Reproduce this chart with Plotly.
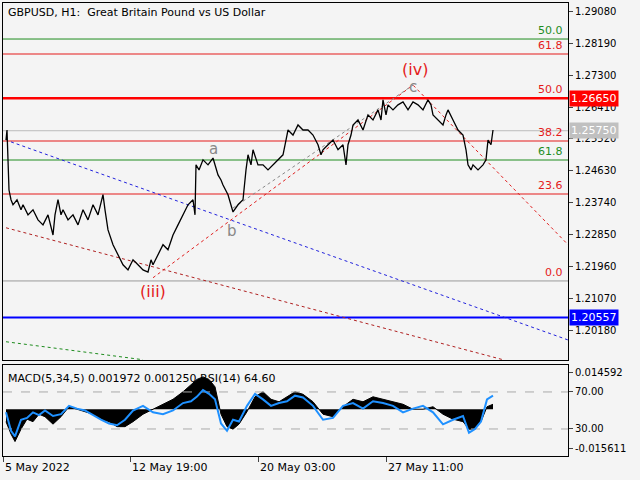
import plotly.graph_objects as go

# price path (x = bar position index, price)
px_x = [3,4,6,8,10,14,18,20,25,30,35,40,45,50,52,55,58,60,65,70,75,80,85,90,95,100,102,105,110,115,120,125,130,135,140,145,148,150,155,160,165,170,175,180,185,190,192,193,196,200,205,210,213,215,218,220,225,230,235,240,243,245,248,250,255,260,265,270,275,280,283,285,290,295,300,305,310,315,318,320,325,330,335,340,343,345,348,350,355,360,365,370,375,378,380,383,385,390,395,400,405,410,415,420,425,428,430,435,440,443,445,450,455,460,463,465,468,470,475,480,483,485,488,490]
px_y = [1.2549,1.2577,1.2410,1.2383,1.2369,1.2383,1.2355,1.2369,1.2341,1.2355,1.2327,1.2313,1.2341,1.2285,1.2341,1.2383,1.2341,1.2355,1.2327,1.2341,1.2313,1.2355,1.2327,1.2369,1.2341,1.2397,1.2355,1.2299,1.2258,1.2230,1.2202,1.2188,1.2216,1.2202,1.2188,1.2182,1.2216,1.2202,1.2230,1.2258,1.2244,1.2285,1.2313,1.2341,1.2369,1.2383,1.2341,1.2480,1.2466,1.2494,1.2480,1.2499,1.2466,1.2452,1.2438,1.2424,1.2397,1.2349,1.2369,1.2383,1.2466,1.2508,1.2480,1.2522,1.2480,1.2480,1.2466,1.2480,1.2494,1.2508,1.2549,1.2577,1.2563,1.2591,1.2577,1.2577,1.2563,1.2536,1.2508,1.2522,1.2536,1.2549,1.2522,1.2536,1.2480,1.2536,1.2563,1.2591,1.2605,1.2577,1.2619,1.2605,1.2633,1.2605,1.2661,1.2619,1.2647,1.2633,1.2647,1.2655,1.2633,1.2655,1.2647,1.2633,1.2661,1.2647,1.2619,1.2605,1.2591,1.2619,1.2633,1.2605,1.2577,1.2563,1.2522,1.2480,1.2466,1.2480,1.2466,1.2480,1.2494,1.2549,1.2536,1.2577]

# MACD histogram and RSI
ind_x = [3,8,12,18,24,30,36,42,50,58,66,74,82,90,98,106,114,122,130,140,150,160,170,180,188,194,200,206,212,218,224,230,236,244,252,260,268,276,284,292,300,310,320,330,340,350,360,370,380,390,400,410,420,430,440,450,460,466,472,478,484,490]
macd = [-0.005,-0.010,-0.013,-0.008,-0.004,-0.005,-0.002,-0.003,-0.006,-0.003,0.001,0.000,-0.001,-0.002,-0.004,-0.005,-0.007,-0.007,-0.005,-0.002,0.000,0.002,0.004,0.007,0.010,0.012,0.013,0.012,0.009,-0.002,-0.007,-0.008,-0.006,-0.001,0.005,0.007,0.004,0.003,0.005,0.007,0.006,0.003,-0.002,-0.003,0.001,0.004,0.003,0.005,0.004,0.003,0.002,0.000,0.000,0.001,-0.002,-0.004,-0.005,-0.008,-0.008,-0.005,0.001,0.002]
rsi = [48,28,22,40,42,48,45,50,44,46,55,52,50,45,40,36,34,40,50,55,48,46,50,58,60,65,72,68,62,36,28,40,38,55,68,62,55,58,60,66,64,55,40,42,55,58,52,60,58,55,48,52,55,48,35,40,44,26,30,38,62,66]

# horizontal levels
lv_green50 = 1.28301; lv_red618 = 1.27884; lv_main = 1.26650; lv_last = 1.25750
lv_red382 = 1.25464; lv_green618 = 1.24936; lv_red236 = 1.23990; lv_zero = 1.21571; lv_blue = 1.20557

yticks = [1.29080,1.28190,1.27300,1.26410,1.25520,1.24630,1.23740,1.22850,1.21960,1.21070,1.20180]
xt_pos = [0,127,255,383]
xt_lab = ["5 May 2022","12 May 19:00","20 May 03:00","27 May 11:00"]

fig = go.Figure()
X0, X1 = 0, 565
def hline(y, color, w, dash="solid"):
    fig.add_trace(go.Scatter(x=[X0, X1], y=[y, y], mode="lines", line=dict(color=color, width=w, dash=dash), hoverinfo="skip", xaxis="x", yaxis="y"))

hline(lv_green50, "#1e8c1e", 1); hline(lv_red618, "#e41b1b", 1.2); hline(lv_main, "#ff0000", 2.5)
hline(lv_last, "#bbbbbb", 1); hline(lv_red382, "#e41b1b", 1.2); hline(lv_green618, "#1e8c1e", 1.2)
hline(lv_red236, "#e41b1b", 1.2); hline(lv_zero, "#999999", 1); hline(lv_blue, "#0000ff", 2)

def seg(xs, ys, color, dash):
    fig.add_trace(go.Scatter(x=xs, y=ys, mode="lines", line=dict(color=color, width=1, dash=dash), hoverinfo="skip"))
seg([8, 565], [1.2544, 1.1993], "#2222dd", "dot")
seg([3, 500], [1.2305, 1.1938], "#b02020", "dot")
seg([3, 140], [1.1988, 1.1938], "#1e8c1e", "dot")
seg([150, 410, 565], [1.2166, 1.2702, 1.2258], "#e02020", "dot")
seg([230, 410], [1.2360, 1.2702], "#888888", "dot")

fig.add_trace(go.Scatter(x=px_x, y=px_y, mode="lines", line=dict(color="black", width=1.3), hoverinfo="skip"))

fig.add_trace(go.Scatter(x=ind_x, y=macd, mode="lines", fill="tozeroy", fillcolor="black", line=dict(color="black", width=1), xaxis="x2", yaxis="y2"))
fig.add_trace(go.Scatter(x=[X0, X1], y=[70, 70], mode="lines", line=dict(color="#aaaaaa", width=1, dash="dash"), xaxis="x2", yaxis="y3"))
fig.add_trace(go.Scatter(x=[X0, X1], y=[30, 30], mode="lines", line=dict(color="#aaaaaa", width=1, dash="dash"), xaxis="x2", yaxis="y3"))
fig.add_trace(go.Scatter(x=ind_x, y=rsi, mode="lines", line=dict(color="#1e90ff", width=2), xaxis="x2", yaxis="y3"))

font = dict(family="DejaVu Sans", size=10, color="black")
fig.update_layout(
    width=640, height=480, showlegend=False, paper_bgcolor="#f4f4f4", plot_bgcolor="#f4f4f4",
    margin=dict(l=3, r=72, t=3, b=24, autoexpand=False), font=font,
    xaxis=dict(range=[X0, X1], domain=[0, 1], showticklabels=False, showgrid=False, zeroline=False, showline=True, mirror=True, linecolor="black", anchor="y"),
    yaxis=dict(range=[1.19373, 1.29303], domain=[0.212, 1], side="right", tickvals=yticks, ticktext=[f"{v:.5f}" for v in yticks], ticks="outside", ticklen=4, showgrid=False, zeroline=False, showline=True, mirror=True, linecolor="black"),
    xaxis2=dict(range=[X0, X1], domain=[0, 1], anchor="y2", tickvals=xt_pos, ticktext=[""] * 4, ticks="outside", ticklen=5, showgrid=False, zeroline=False, showline=True, mirror=True, linecolor="black"),
    yaxis2=dict(range=[-0.0188, 0.0178], domain=[0, 0.201], side="right", tickvals=[0.014592, -0.015611], ticktext=["0.014592", "-0.015611"], ticks="outside", ticklen=4, showgrid=False, zeroline=False, showline=True, mirror=True, linecolor="black"),
    yaxis3=dict(range=[0.8, 99.2], overlaying="y2", side="right", tickvals=[70, 30], ticktext=["70.00", "30.00"], ticks="outside", ticklen=4, showgrid=False, zeroline=False),
)

ann = []
for p, t in zip(xt_pos, xt_lab):
    ann.append(dict(x=p, y=0, xref="x2", yref="paper", text=t, showarrow=False, xanchor="left", yanchor="top", yshift=-3, font=dict(size=11)))
def lab(y, text, color):
    ann.append(dict(x=562, y=y, xref="x", yref="y", text=text, showarrow=False, xanchor="right", yanchor="bottom", font=dict(color=color, size=11)))
lab(lv_green50, "50.0", "#1e8c1e"); lab(lv_red618, "61.8", "#e41b1b"); lab(lv_main, "50.0", "#e41b1b")
lab(lv_red382, "38.2", "#e41b1b"); lab(lv_green618, "61.8", "#1e8c1e"); lab(lv_red236, "23.6", "#e41b1b"); lab(lv_zero, "0.0", "#e41b1b")
for y, t, bg in [(lv_main, "1.26650", "#ff0000"), (lv_last, "1.25750", "#c0c0c0"), (lv_blue, "1.20557", "#0000ff")]:
    ann.append(dict(x=1.0, y=y, xref="paper", yref="y", text=t, showarrow=False, xanchor="left", xshift=1, bgcolor=bg, font=dict(color="white", size=11)))
ann += [
    dict(x=3, y=1.2905, xref="x", yref="y", text="GBPUSD, H1:  Great Britain Pound vs US Dollar", showarrow=False, xanchor="left", font=dict(size=11)),
    dict(x=412, y=1.2745, xref="x", yref="y", text="(iv)", showarrow=False, font=dict(color="#e41b1b", size=16)),
    dict(x=410, y=1.2697, xref="x", yref="y", text="c", showarrow=False, font=dict(color="#888888", size=15)),
    dict(x=210, y=1.2525, xref="x", yref="y", text="a", showarrow=False, font=dict(color="#888888", size=15)),
    dict(x=229, y=1.2297, xref="x", yref="y", text="b", showarrow=False, font=dict(color="#888888", size=15)),
    dict(x=150, y=1.2127, xref="x", yref="y", text="(iii)", showarrow=False, font=dict(color="#e41b1b", size=16)),
    dict(x=3, y=0.19, xref="x", yref="paper", text="MACD(5,34,5) 0.001972 0.001250 RSI(14) 64.60", showarrow=False, xanchor="left", yanchor="top", font=dict(size=11)),
]
fig.update_layout(annotations=ann)
fig.write_html("out.html", config={"displayModeBar": False},
               post_script="document.body.style.margin='0';document.body.style.background='#f4f4f4';")
